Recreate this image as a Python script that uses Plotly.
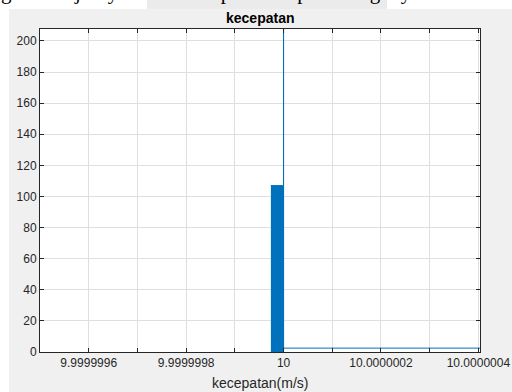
import plotly.graph_objects as go

# ---- data ----
blok_x = [9.999999974, 10.0, 10.0, 9.999999974]
blok_y = [0, 0, 107, 107]
garis_x = [10.0, 10.0, 10.0, 10.00000041]
garis_y = [107, 208, 2.5, 2.5]

x_ticks = [9.9999996, 9.9999997, 9.9999998, 9.9999999, 10.0,
           10.0000001, 10.0000002, 10.0000003, 10.0000004]
x_ticklabels = ["9.9999996", "", "9.9999998", "", "10",
                "", "10.0000002", "", "10.0000004"]
y_ticks = [0, 20, 40, 60, 80, 100, 120, 140, 160, 180, 200]
y_ticklabels = [str(v) for v in y_ticks]

judul = "kecepatan"
label_x = "kecepatan(m/s)"
teks_dokumen = "get selanjutnya dilakukan plot kecepatan target y"

BLUE = "#0072BD"
W, H = 512, 392
L, R, T, B = 40, 32, 29, 40
PW, PH = W - L - R, H - T - B


def px(x):
    return (x - L) / PW


def py(y):
    return (H - B - y) / PH


fig = go.Figure()
fig.add_trace(go.Scatter(x=blok_x, y=blok_y, mode="lines", fill="toself",
                         fillcolor=BLUE, line=dict(color=BLUE, width=1),
                         hoverinfo="skip", showlegend=False))
fig.add_trace(go.Scatter(x=garis_x, y=garis_y, mode="lines",
                         line=dict(color=BLUE, width=1),
                         showlegend=False))

axis_font = dict(family="Liberation Sans, Arial, sans-serif", size=12, color="#262626")

fig.update_xaxes(range=[9.9999995, 10.0000004033], tickvals=x_ticks, ticktext=x_ticklabels,
                 showgrid=True, gridcolor="#dfdfdf", gridwidth=1,
                 showline=True, linecolor="#262626", linewidth=1, mirror="ticks",
                 ticks="inside", ticklen=4, tickcolor="#262626",
                 tickfont=axis_font, zeroline=False, automargin=False)
fig.update_yaxes(range=[0, 207.7], tickvals=y_ticks, ticktext=y_ticklabels,
                 showgrid=True, gridcolor="#dfdfdf", gridwidth=1,
                 showline=True, linecolor="#262626", linewidth=1, mirror="ticks",
                 ticks="inside", ticklen=4, tickcolor="#262626",
                 tickfont=axis_font, zeroline=False, automargin=False)

shapes = [
    dict(type="rect", xref="paper", yref="paper", x0=px(-10), x1=px(W + 10),
         y0=py(9), y1=py(-10), fillcolor="white", line=dict(width=0), layer="below"),
    dict(type="rect", xref="paper", yref="paper", x0=px(-10), x1=px(9),
         y0=py(H + 10), y1=py(-10), fillcolor="white", line=dict(width=0), layer="below"),
    dict(type="rect", xref="paper", yref="paper", x0=px(147), x1=px(387),
         y0=py(9), y1=py(-10), fillcolor="#ebebeb", line=dict(width=0), layer="below"),
]

annotations = [
    dict(text="<b>" + judul + "</b>", xref="paper", yref="paper", x=0.5, y=py(18),
         xanchor="center", yanchor="middle", showarrow=False,
         font=dict(family="Liberation Sans, Arial, sans-serif", size=14, color="#000000")),
    dict(text=label_x, xref="paper", yref="paper", x=0.5, y=py(383),
         xanchor="center", yanchor="middle", showarrow=False,
         font=dict(family="Liberation Sans, Arial, sans-serif", size=14, color="#262626")),
    dict(text=teks_dokumen, xref="paper", yref="paper", x=px(-1), y=py(6),
         xanchor="left", yanchor="bottom", showarrow=False,
         font=dict(family="Liberation Serif, Times New Roman, serif", size=21, color="#000000")),
]

fig.update_layout(width=W, height=H,
                  margin=dict(l=L, r=R, t=T, b=B, autoexpand=False),
                  paper_bgcolor="#f0f0f0", plot_bgcolor="white",
                  shapes=shapes, annotations=annotations, showlegend=False)

fig.write_html("out.html", config={"displayModeBar": False},
               post_script="document.body.style.margin='0px';document.body.style.overflow='hidden';")
